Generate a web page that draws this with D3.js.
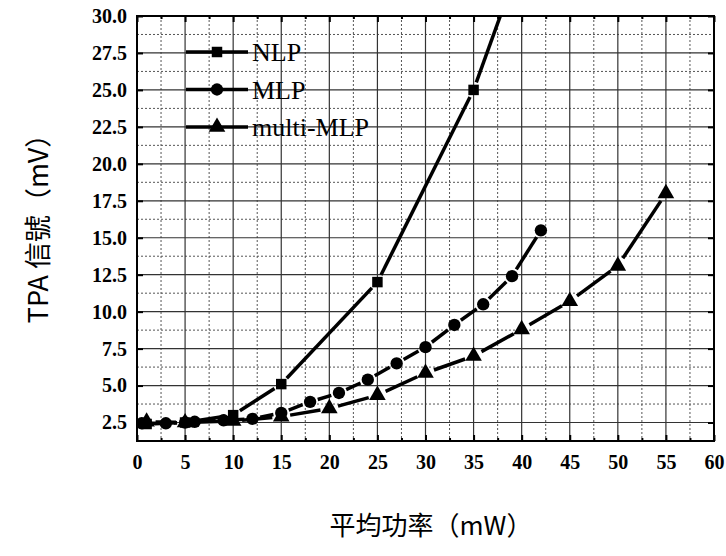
<!DOCTYPE html>
<html>
<head>
<meta charset="utf-8">
<script src="https://cdn.jsdelivr.net/npm/d3@7"></script>
<style>
  body { margin: 0; background: #fff; }
  svg { display: block; }
</style>
</head>
<body>
<svg id="chart" width="726" height="556"></svg>
<script>
// power (mW) vs TPA signal (mV)
var nlpX = [1, 5, 10, 15, 25, 35, 40];
var nlpY = [2.4, 2.5, 3.0, 5.1, 12.0, 25.0, 34.0];

var mlpX = [0.5, 3, 5, 6, 9, 12, 15, 18, 21, 24, 27, 30, 33, 36, 39, 42];
var mlpY = [2.45, 2.45, 2.5, 2.55, 2.65, 2.75, 3.15, 3.9, 4.5, 5.4, 6.5, 7.6, 9.1, 10.5, 12.4, 15.5];

var multiX = [1, 5, 10, 15, 20, 25, 30, 35, 40, 45, 50, 55];
var multiY = [2.55, 2.5, 2.6, 2.9, 3.45, 4.35, 5.85, 7.0, 8.8, 10.7, 13.1, 18.0];

var seriesNames = ["NLP", "MLP", "multi-MLP"];
var xTicks = [0, 5, 10, 15, 20, 25, 30, 35, 40, 45, 50, 55, 60];
var yTicks = [2.5, 5.0, 7.5, 10.0, 12.5, 15.0, 17.5, 20.0, 22.5, 25.0, 27.5, 30.0];

var margin = {top: 16, left: 137, right: 12, bottom: 115};
var svg = d3.select("#chart");
var W = 726 - margin.left - margin.right;
var H = 556 - margin.top - margin.bottom;

var x = d3.scaleLinear().domain([0, 60]).range([0, W]);
var y = d3.scaleLinear().domain([1.25, 30]).range([H, 0]);

var g = svg.append("g").attr("transform", "translate(" + margin.left + "," + margin.top + ")");

g.append("clipPath").attr("id", "clip")
  .append("rect").attr("width", W).attr("height", H);

// minor grid (dotted)
var xMinor = d3.range(2.5, 60, 5);
var yMinor = d3.range(1.25 + 2.5, 30, 2.5).map(function (v) { return +v.toFixed(2); });
g.selectAll(".xminor").data(xMinor).enter().append("line")
  .attr("x1", d => x(d)).attr("x2", d => x(d)).attr("y1", 0).attr("y2", H)
  .attr("stroke", "#555").attr("stroke-width", 1).attr("stroke-dasharray", "2,2");
g.selectAll(".yminor").data(yMinor).enter().append("line")
  .attr("y1", d => y(d)).attr("y2", d => y(d)).attr("x1", 0).attr("x2", W)
  .attr("stroke", "#555").attr("stroke-width", 1).attr("stroke-dasharray", "2,2");

// major grid (solid)
g.selectAll(".xmajor").data(xTicks.slice(1, -1)).enter().append("line")
  .attr("x1", d => x(d)).attr("x2", d => x(d)).attr("y1", 0).attr("y2", H)
  .attr("stroke", "#333").attr("stroke-width", 1.2);
g.selectAll(".ymajor").data(yTicks.slice(0, -1)).enter().append("line")
  .attr("y1", d => y(d)).attr("y2", d => y(d)).attr("x1", 0).attr("x2", W)
  .attr("stroke", "#333").attr("stroke-width", 1.2);

// axes with inward ticks
var xAxis = d3.axisBottom(x).tickValues(xTicks).tickSizeInner(-6).tickSizeOuter(0).tickPadding(14).tickFormat(d3.format("d"));
var yAxis = d3.axisLeft(y).tickValues(yTicks).tickSizeInner(-6).tickSizeOuter(0).tickPadding(10).tickFormat(d3.format(".1f"));

var gx = g.append("g").attr("transform", "translate(0," + H + ")").call(xAxis);
var gy = g.append("g").call(yAxis);
var gxTop = g.append("g").call(d3.axisTop(x).tickValues(xTicks).tickSizeInner(-6).tickSizeOuter(0).tickFormat(""));
var gyRight = g.append("g").attr("transform", "translate(" + W + ",0)")
  .call(d3.axisRight(y).tickValues(yTicks).tickSizeInner(-6).tickSizeOuter(0).tickFormat(""));

// minor ticks
g.append("g").attr("transform", "translate(0," + H + ")")
  .call(d3.axisBottom(x).tickValues(xMinor).tickSizeInner(-3).tickSizeOuter(0).tickFormat(""));
g.append("g").call(d3.axisTop(x).tickValues(xMinor).tickSizeInner(-3).tickSizeOuter(0).tickFormat(""));

svg.selectAll(".domain").remove();
svg.selectAll(".tick line").attr("stroke", "#000").attr("stroke-width", 2);

[gx, gy].forEach(function (a) {
  a.selectAll(".tick text")
    .style("font-family", "'Liberation Serif', 'Times New Roman', serif")
    .style("font-size", "20px")
    .style("font-weight", "bold")
    .style("fill", "#000");
});

// frame
g.append("rect").attr("width", W).attr("height", H)
  .attr("fill", "none").attr("stroke", "#000").attr("stroke-width", 2);

// series
function pts(xs, ys) { return xs.map(function (v, i) { return [x(v), y(ys[i])]; }); }

var series = [
  {name: seriesNames[0], p: pts(nlpX, nlpY), sym: d3.symbolSquare, size: 110, gap: 8},
  {name: seriesNames[1], p: pts(mlpX, mlpY), sym: d3.symbolCircle, size: 120, gap: 8},
  {name: seriesNames[2], p: pts(multiX, multiY), sym: d3.symbolTriangle, size: 120, gap: 9}
];

var plot = g.append("g").attr("clip-path", "url(#clip)");

series.forEach(function (s) {
  var segs = [];
  for (var i = 0; i < s.p.length - 1; i++) {
    var a = s.p[i], b = s.p[i + 1];
    var dx = b[0] - a[0], dy = b[1] - a[1];
    var len = Math.sqrt(dx * dx + dy * dy);
    if (len <= 2 * s.gap) continue;
    var ux = dx / len, uy = dy / len;
    segs.push([[a[0] + ux * s.gap, a[1] + uy * s.gap], [b[0] - ux * s.gap, b[1] - uy * s.gap]]);
  }
  plot.selectAll(null).data(segs).enter().append("line")
    .attr("x1", d => d[0][0]).attr("y1", d => d[0][1])
    .attr("x2", d => d[1][0]).attr("y2", d => d[1][1])
    .attr("stroke", "#000").attr("stroke-width", 3.5);
  plot.selectAll(null).data(s.p).enter().append("path")
    .attr("d", d3.symbol().type(s.sym).size(s.size))
    .attr("transform", d => "translate(" + d[0] + "," + d[1] + ")")
    .attr("fill", "#000");
});

// legend
var leg = g.append("g").attr("transform", "translate(49,36)");
series.forEach(function (s, i) {
  var row = leg.append("g").attr("transform", "translate(0," + (i * 37.5) + ")");
  row.append("line").attr("x1", 0).attr("x2", 62).attr("y1", 0).attr("y2", 0)
    .attr("stroke", "#000").attr("stroke-width", 3.5);
  row.append("path").attr("d", d3.symbol().type(s.sym).size(s.size)())
    .attr("transform", "translate(31,0)").attr("fill", "#000");
  row.append("text").attr("x", 66).attr("y", 9).text(s.name)
    .attr("font-family", "Liberation Serif, serif").attr("font-size", 26).attr("fill", "#000");
});

// axis titles
svg.append("text")
  .attr("transform", "translate(48,222) rotate(-90)")
  .attr("text-anchor", "middle")
  .attr("font-family", "Noto Sans CJK TC")
  .attr("font-size", 27)
  .text("TPA 信號（mV）");

svg.append("text")
  .attr("x", 431).attr("y", 535)
  .attr("text-anchor", "middle")
  .attr("font-family", "Noto Sans CJK TC")
  .attr("font-size", 26)
  .text("平均功率（mW）");
</script>
</body>
</html>
